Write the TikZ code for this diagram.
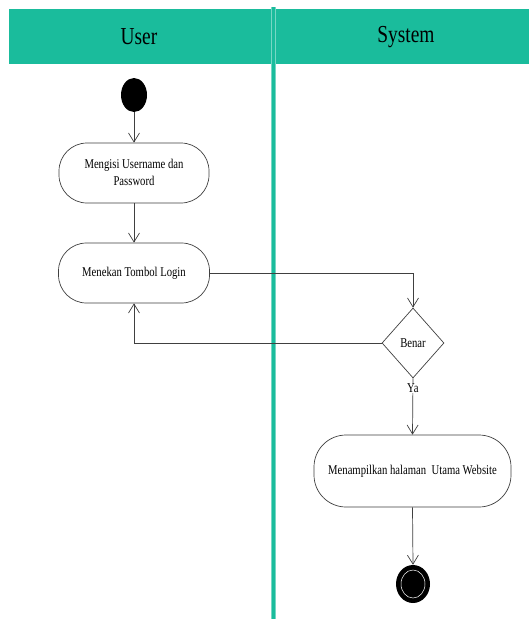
\documentclass[tikz,border=0pt]{standalone}
\usepackage{fontspec}
\usepackage{graphicx}
\setmainfont{Liberation Serif}
\usetikzlibrary{arrows.meta,shapes.geometric}
\definecolor{teal1}{HTML}{1ABC9C}
\definecolor{ln}{HTML}{404040}
\newcommand\tallT[1]{\scalebox{0.97}[1.22]{#1}}
\tikzset{
  x=1pt,y=-1pt,
  hdr/.style={fill=teal1,draw=none},
  act/.style={draw=ln,line width=0.7pt,rounded corners=28pt,fill=white,align=center,inner sep=0pt,font=\fontsize{11}{15}\selectfont},
  flow/.style={draw=ln,line width=0.7pt,-{Straight Barb[length=9pt,width=11pt,line width=0.7pt]}},
}
\begin{document}
\begin{tikzpicture}
\useasboundingbox (0,0) rectangle (529,619);
\fill[white] (0,0) rectangle (529,619);
% headers
\fill[hdr] (9,9) rectangle (271,64);
\fill[hdr] (276,9) rectangle (529,64);
\node[font=\fontsize{20}{24}\selectfont] (huser) at (139,37) {\tallT{User}};
\node[font=\fontsize{20}{24}\selectfont] (hsys) at (406,37) {\tallT{System}};
% swimlane divider
\draw[teal1!60,line width=4.5pt] (273.5,7) -- (273.5,619);
\draw[teal1,line width=3pt] (273.5,7) -- (273.5,619);
% start
\node[ellipse,fill=black,minimum width=26pt,minimum height=34pt,inner sep=0pt] (start) at (134,95) {};
% activities
\node[act,minimum width=150pt,minimum height=60pt] (a1) at (134,173) {\tallT{\begin{tabular}{@{}c@{}}Mengisi Username dan\\[-1pt]Password\end{tabular}}};
\node[act,minimum width=151pt,minimum height=60pt] (a2) at (134,273) {\tallT{Menekan Tombol Login}};
\node[diamond,draw=ln,line width=0.7pt,minimum width=62pt,minimum height=70pt,inner sep=0pt,font=\fontsize{11}{13}\selectfont] (d) at (413,343) {\tallT{Benar}};
\node[act,minimum width=197pt,minimum height=72pt,rounded corners=32pt] (a3) at (412.5,471) {\tallT{Menampilkan halaman\ \ Utama Website}};
% end
\node[ellipse,fill=black,minimum width=34pt,minimum height=38pt,inner sep=0pt] (end) at (413,584) {};
\node[ellipse,draw=white,line width=0.5pt,minimum width=24pt,minimum height=28pt,inner sep=0pt] (endin) at (413,584) {};
% connectors
\draw[flow] (start) -- (a1);
\draw[flow] (a1) -- (a2);
\draw[flow] (a2.east) -| (d.north);
\draw[flow] (d.west) -| (a2.south);
\draw[flow] (d.south) -- node[pos=0.18,fill=white,inner sep=0.5pt,font=\fontsize{11}{13}\selectfont] (ya) {\tallT{Ya}} (a3.north);
\draw[flow] (a3.south) -- (end.north);
\end{tikzpicture}
\end{document}
